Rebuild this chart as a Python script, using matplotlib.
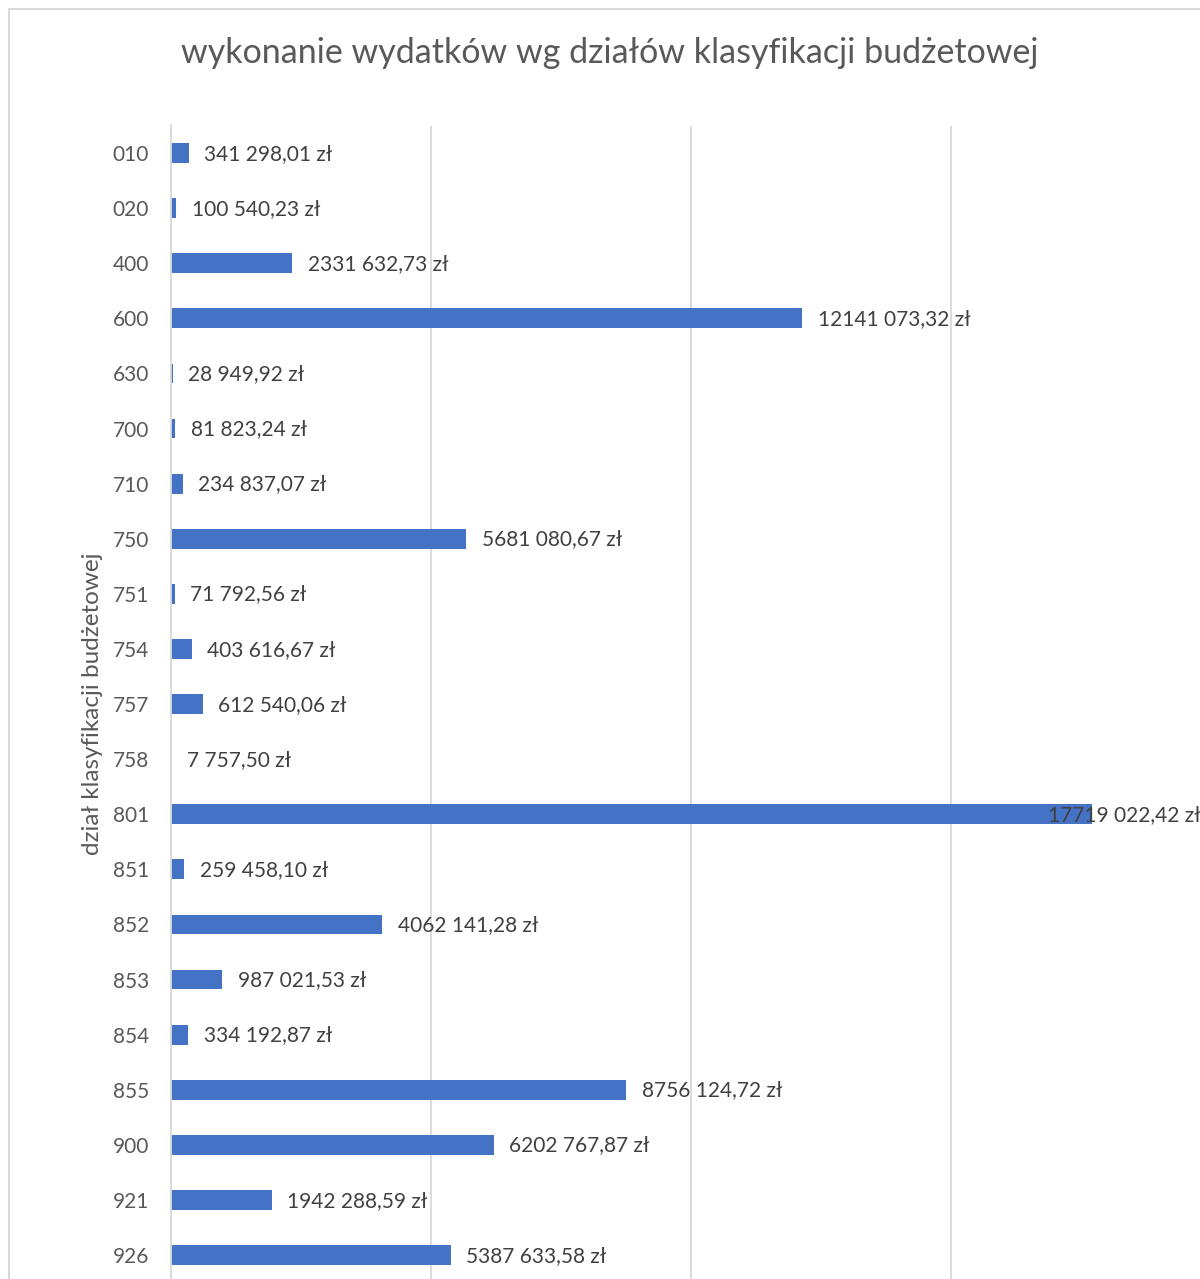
import matplotlib.pyplot as plt
from matplotlib.patches import Rectangle

plt.rcParams['font.family'] = ['Lato', 'DejaVu Sans']

dzialy = ['010', '020', '400', '600', '630', '700', '710', '750', '751', '754',
          '757', '758', '801', '851', '852', '853', '854', '855', '900', '921', '926']
wydatki = [341298.01, 100540.23, 2331632.73, 12141073.32, 28949.92, 81823.24,
           234837.07, 5681080.67, 71792.56, 403616.67, 612540.06, 7757.50,
           17719022.42, 259458.10, 4062141.28, 987021.53, 334192.87, 8756124.72,
           6202767.87, 1942288.59, 5387633.58]


def fmt_zl(v):
    n = int(v)
    gr = round((v - n) * 100)
    if n >= 1000:
        s = f"{n // 1000} {n % 1000:03d}"
    else:
        s = str(n)
    return f"{s},{gr:02d} zł"


W, H = 1200, 1279
fig = plt.figure(figsize=(W / 100, H / 100), dpi=100)

# chart frame (the picture is a crop of a larger Excel chart)
fig.patches.append(Rectangle((9 / W, -0.1), 1.2, 1.1 - 9 / H, transform=fig.transFigure,
                             fill=False, edgecolor='#D9D9D9', linewidth=1.5))

left, right = 171 / W, 1211 / W
top, bottom = 1 - 125.5 / H, 1 - 1282.6 / H
ax = fig.add_axes([left, bottom, right - left, top - bottom])

y = list(range(len(dzialy)))
ax.barh(y, wydatki, height=0.36, color='#4472C4', zorder=3)
ax.set_ylim(len(dzialy) - 0.5, -0.5)
ax.set_xlim(0, 20_000_000)
ax.set_xticks([0, 5_000_000, 10_000_000, 15_000_000, 20_000_000])
ax.set_xticklabels([])
ax.tick_params(axis='x', length=0)
ax.grid(axis='x', color='#D9D9D9', linewidth=1.3, zorder=0)

ax.set_yticks(y)
ax.set_yticklabels(dzialy, fontsize=15, color='#595959')
ax.tick_params(axis='y', length=0, pad=16)

for s in ['top', 'right', 'bottom']:
    ax.spines[s].set_visible(False)
ax.spines['left'].set_color('#D9D9D9')
ax.spines['left'].set_linewidth(1.3)
ax.spines['left'].set_zorder(4)

vmax = max(wydatki)
for yi, v in zip(y, wydatki):
    off = -32 if v == vmax else 11
    ax.annotate(fmt_zl(v), (v, yi), xytext=(off, -0.5), textcoords='offset points',
                va='center', ha='left', fontsize=15, color='#404040', zorder=5,
                annotation_clip=False)

ax.set_ylabel('dział klasyfikacji budżetowej', fontsize=17.5, color='#595959', labelpad=7)

fig.text(609.5 / W, 1 - 53 / H, 'wykonanie wydatków wg działów klasyfikacji budżetowej',
         ha='center', va='center', fontsize=24.5, color='#595959')

fig.savefig('out.png', dpi=100)
